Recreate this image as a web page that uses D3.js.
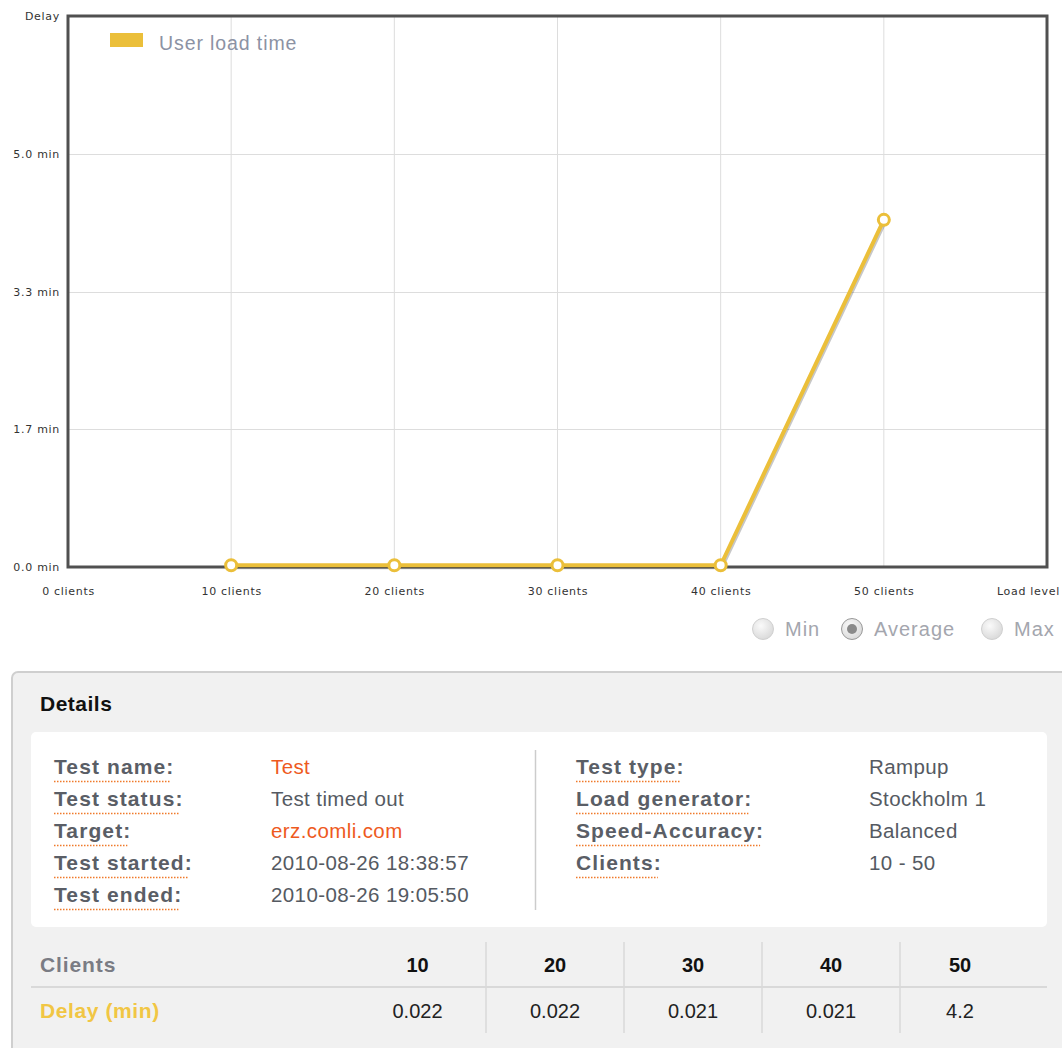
<!DOCTYPE html>
<html>
<head>
<meta charset="utf-8">
<script src="https://cdn.jsdelivr.net/npm/d3@7"></script>
<style>
  html, body { margin: 0; padding: 0; background: #ffffff; overflow: hidden; }
  svg { display: block; }
</style>
</head>
<body>
<svg id="page" width="1062" height="1048"></svg>
<script>
// ---- data ----
const clients = [10, 20, 30, 40, 50];
const delayMin = [0.022, 0.022, 0.021, 0.021, 4.2];
const seriesName = "User load time";
const xTickValues = [0, 10, 20, 30, 40, 50];
const xTickLabels = ["0 clients", "10 clients", "20 clients", "30 clients", "40 clients", "50 clients"];
const yTickValues = [0, 5 / 3, 10 / 3, 5];
const yTickLabels = ["0.0 min", "1.7 min", "3.3 min", "5.0 min"];
const radioOptions = ["Min", "Average", "Max"];
const detailsLeftLabels = ["Test name:", "Test status:", "Target:", "Test started:", "Test ended:"];
const detailsLeftValues = ["Test", "Test timed out", "erz.comli.com", "2010-08-26 18:38:57", "2010-08-26 19:05:50"];
const detailsRightLabels = ["Test type:", "Load generator:", "Speed-Accuracy:", "Clients:"];
const detailsRightValues = ["Rampup", "Stockholm 1", "Balanced", "10 - 50"];
const linkValues = ["Test", "erz.comli.com"];

// ---- chart ----
const svg = d3.select("#page");
const plot = { left: 68, right: 1047, top: 16, bottom: 567 };
const yellow = "#ebbf3a";

const x = d3.scaleLinear().domain([0, 60]).range([plot.left, plot.right]);
const y = d3.scaleLinear().domain([0, 20 / 3]).range([plot.bottom, plot.top]);

const grid = svg.append("g");
grid.selectAll("line.v").data(clients).join("line")
  .attr("x1", d => x(d)).attr("x2", d => x(d))
  .attr("y1", plot.top).attr("y2", plot.bottom)
  .attr("stroke", "#dddddd").attr("stroke-width", 1);
grid.selectAll("line.h").data(yTickValues.slice(1)).join("line")
  .attr("x1", plot.left).attr("x2", plot.right)
  .attr("y1", d => Math.round(y(d)) + 0.5).attr("y2", d => Math.round(y(d)) + 0.5)
  .attr("stroke", "#dddddd").attr("stroke-width", 1);

// frame
svg.append("rect")
  .attr("x", plot.left).attr("y", plot.top)
  .attr("width", plot.right - plot.left).attr("height", plot.bottom - plot.top)
  .attr("fill", "none").attr("stroke", "#505050").attr("stroke-width", 3);

// axes
const axisFont = "'DejaVu Sans', sans-serif";
const axisSize = 11;
const axisSpacing = "0.7px";
const yAxis = d3.axisLeft(y).tickValues(yTickValues)
  .tickFormat((d, i) => yTickLabels[i]).tickSize(0).tickPadding(8);
const yg = svg.append("g").attr("transform", `translate(${plot.left},0)`).call(yAxis);
yg.select(".domain").remove();
yg.selectAll("text").attr("font-family", axisFont).attr("font-size", axisSize)
  .attr("fill", "#333").attr("letter-spacing", axisSpacing).attr("x", -8);
svg.append("text").attr("x", 60).attr("y", y.range()[1] + 4)
  .attr("text-anchor", "end").attr("font-family", axisFont).attr("font-size", axisSize)
  .attr("letter-spacing", axisSpacing).attr("fill", "#333").text("Delay");

const xAxis = d3.axisBottom(x).tickValues(xTickValues)
  .tickFormat((d, i) => xTickLabels[i]).tickSize(0).tickPadding(20);
const xg = svg.append("g").attr("transform", `translate(0,${plot.bottom})`).call(xAxis);
xg.select(".domain").remove();
xg.selectAll("text").attr("font-family", axisFont).attr("font-size", axisSize)
  .attr("letter-spacing", axisSpacing).attr("fill", "#333");
svg.append("text").attr("x", 1060).attr("y", plot.bottom + 28)
  .attr("text-anchor", "end").attr("font-family", axisFont).attr("font-size", axisSize)
  .attr("letter-spacing", axisSpacing).attr("fill", "#333").text("Load level");

// legend
const sans = "'Liberation Sans', Arial, sans-serif";
svg.append("rect").attr("x", 110).attr("y", 33).attr("width", 33).attr("height", 14).attr("fill", yellow);
svg.append("text").attr("x", 159).attr("y", 50)
  .attr("font-family", sans).attr("font-size", 19.5)
  .attr("letter-spacing", "0.9px").attr("fill", "#8c92a4").text(seriesName);

// series line with soft shadow
const pts = clients.map((c, i) => [c, delayMin[i]]);
const line = d3.line().x(d => x(d[0])).y(d => y(d[1]));
svg.append("path").attr("d", line(pts)).attr("fill", "none")
  .attr("stroke", "rgba(0,0,0,0.22)").attr("stroke-width", 4)
  .attr("transform", "translate(1,2)");
svg.append("path").attr("d", line(pts)).attr("fill", "none")
  .attr("stroke", yellow).attr("stroke-width", 4).attr("stroke-linejoin", "round");
svg.selectAll("circle.pt").data(pts).join("circle")
  .attr("cx", d => x(d[0])).attr("cy", d => y(d[1])).attr("r", 5.5)
  .attr("fill", "#fff").attr("stroke", yellow).attr("stroke-width", 3);

// radio selector
const defs = svg.append("defs");
const rg = defs.append("radialGradient").attr("id", "radioFill").attr("cx", "40%").attr("cy", "35%").attr("r", "70%");
rg.append("stop").attr("offset", "0%").attr("stop-color", "#fafafa");
rg.append("stop").attr("offset", "100%").attr("stop-color", "#d8d8d8");
const radioX = [763, 852, 992];
radioOptions.forEach((name, i) => {
  const g = svg.append("g").attr("transform", `translate(${radioX[i]},629)`);
  g.append("circle").attr("r", 10.5).attr("fill", "url(#radioFill)").attr("stroke", "#d0d0d0").attr("stroke-width", 1);
  if (name === "Average") {
    g.select("circle").attr("stroke", "#999");
    g.append("circle").attr("r", 5).attr("fill", "#8a8a8a");
  }
  g.append("text").attr("x", 22).attr("y", 7)
    .attr("font-family", sans).attr("font-size", 20)
    .attr("letter-spacing", "1px").attr("fill", "#a4a6ae").text(name);
});

// ---- details panel ----
const labelStyle = t => t.attr("font-family", sans).attr("font-weight", "bold")
  .attr("font-size", 21).attr("letter-spacing", "1.1px");
svg.append("rect").attr("x", 12).attr("y", 672).attr("width", 1070).attr("height", 420).attr("rx", 6)
  .attr("fill", "#f1f1f1").attr("stroke", "#cfcfcf").attr("stroke-width", 2);
svg.append("text").attr("x", 40).attr("y", 711).call(labelStyle)
  .attr("letter-spacing", "0.5px").attr("fill", "#111").text("Details");
svg.append("rect").attr("x", 31).attr("y", 732).attr("width", 1016).attr("height", 195).attr("rx", 5).attr("fill", "#fff");
svg.append("line").attr("x1", 535.5).attr("x2", 535.5).attr("y1", 750).attr("y2", 910)
  .attr("stroke", "#cccccc").attr("stroke-width", 1.5);

function detailColumn(labels, values, lx, vx) {
  labels.forEach((lab, i) => {
    const by = 774 + i * 32;
    const t = svg.append("text").attr("x", lx).attr("y", by).call(labelStyle)
      .attr("fill", "#5a5e66").text(lab);
    const w = t.node().getComputedTextLength() - 4;
    svg.append("line").attr("x1", lx).attr("x2", lx + w).attr("y1", by + 7.5).attr("y2", by + 7.5)
      .attr("stroke", "#f07a2a").attr("stroke-width", 1.5).attr("stroke-dasharray", "1.5,1.5");
    const v = values[i];
    svg.append("text").attr("x", vx).attr("y", by).attr("font-family", sans).attr("font-size", 20.5)
      .attr("letter-spacing", "0.4px")
      .attr("fill", linkValues.includes(v) ? "#ee5a1e" : "#555a62").text(v);
  });
}
detailColumn(detailsLeftLabels, detailsLeftValues, 54, 271);
detailColumn(detailsRightLabels, detailsRightValues, 576, 869);

// ---- values table ----
const colEdges = [349, 486, 624, 762, 900, 1020];
const colCenters = clients.map((c, i) => (colEdges[i] + colEdges[i + 1]) / 2);
svg.append("line").attr("x1", 31).attr("x2", 1047).attr("y1", 987).attr("y2", 987)
  .attr("stroke", "#d9d9d9").attr("stroke-width", 2);
svg.selectAll("line.col").data(colEdges.slice(1, 5)).join("line")
  .attr("x1", d => d).attr("x2", d => d).attr("y1", 942).attr("y2", 1033)
  .attr("stroke", "#d9d9d9").attr("stroke-width", 1.5);
svg.append("text").attr("x", 40).attr("y", 972).call(labelStyle)
  .attr("letter-spacing", "0.9px").attr("fill", "#7a7c84").text("Clients");
svg.append("text").attr("x", 40).attr("y", 1018).call(labelStyle)
  .attr("letter-spacing", "0.6px").attr("fill", "#f1c644").text("Delay (min)");
svg.selectAll("text.hdr").data(clients).join("text")
  .attr("x", (d, i) => colCenters[i]).attr("y", 972).attr("text-anchor", "middle")
  .attr("font-family", sans).attr("font-weight", "bold").attr("font-size", 20).attr("fill", "#111")
  .text(d => d);
svg.selectAll("text.val").data(delayMin).join("text")
  .attr("x", (d, i) => colCenters[i]).attr("y", 1018).attr("text-anchor", "middle")
  .attr("font-family", sans).attr("font-size", 20).attr("fill", "#222")
  .text(d => d);
</script>
</body>
</html>
